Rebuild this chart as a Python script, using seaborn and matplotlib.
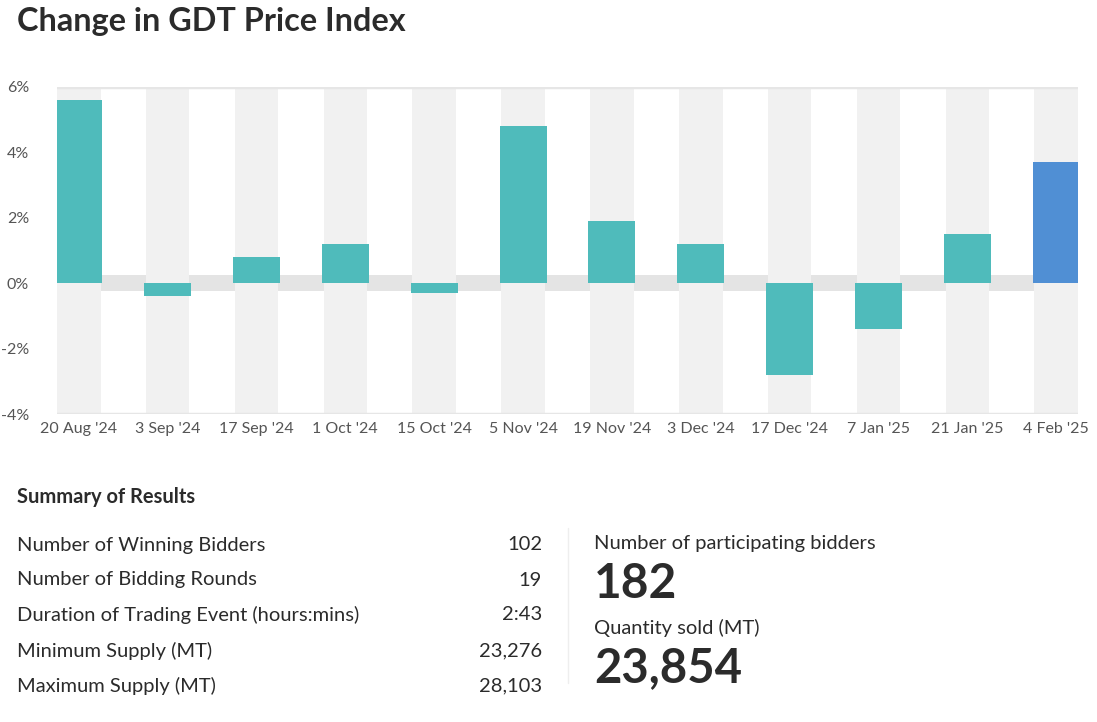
import matplotlib
matplotlib.use("Agg")
import matplotlib.pyplot as plt
import seaborn as sns
import pandas as pd

# data
event_dates = ["20 Aug '24", "3 Sep '24", "17 Sep '24", "1 Oct '24", "15 Oct '24", "5 Nov '24",
               "19 Nov '24", "3 Dec '24", "17 Dec '24", "7 Jan '25", "21 Jan '25", "4 Feb '25"]
index_change = [5.6, -0.4, 0.8, 1.2, -0.3, 4.8, 1.9, 1.2, -2.8, -1.4, 1.5, 3.7]
y_ticks = [-4, -2, 0, 2, 4, 6]

summary_labels = ["Number of Winning Bidders", "Number of Bidding Rounds",
                  "Duration of Trading Event (hours:mins)", "Minimum Supply (MT)",
                  "Maximum Supply (MT)"]
summary_values = ["102", "19", "2:43", "23,276", "28,103"]
highlight_labels = ["Number of participating bidders", "Quantity sold (MT)"]
highlight_values = ["182", "23,854"]

TEAL = "#4fbbbb"
BLUE = "#508fd4"
TEXT = "#2b2b2b"

sns.set_theme(style="white")
plt.rcParams["font.family"] = ["Lato", "DejaVu Sans"]

df = pd.DataFrame({"date": event_dates, "change": index_change})
palette = {d: (BLUE if i == len(event_dates) - 1 else TEAL) for i, d in enumerate(event_dates)}

fig = plt.figure(figsize=(10.97, 7.22), dpi=100)
ax = fig.add_axes([57 / 1097, (722 - 414) / 722, (1078 - 57) / 1097, (414 - 87) / 722])

# grey band around zero, then a light column behind every bar
band = 0.49
ax.axhspan(-0.25, 0.25, color="#e4e4e4", zorder=0, lw=0)
for i in range(len(event_dates)):
    ax.axvspan(i - band / 2, i + band / 2, color="#f1f1f1", zorder=0.5, lw=0)

sns.barplot(data=df, x="date", y="change", hue="date", palette=palette,
            legend=False, width=0.53, saturation=1, linewidth=0, ax=ax, zorder=2)

ax.set_xlim(-band / 2, len(event_dates) - 1 + band / 2)
ax.set_ylim(-4, 6)
ax.set_yticks(y_ticks)
ax.set_yticklabels([f"{t}%" for t in y_ticks])
ax.axhline(6, color="#e6e6e6", lw=2.5, zorder=1)
ax.axhline(-4, color="#e6e6e6", lw=2.5, zorder=1)
for s in ax.spines.values():
    s.set_visible(False)
ax.set_xlabel("")
ax.set_ylabel("")
ax.tick_params(axis="both", length=0, labelsize=11.5, labelcolor="#555555")
ax.tick_params(axis="y", pad=20)
ax.tick_params(axis="x", pad=6)

# title
fig.text(17 / 1097, 1 - 21 / 722, "Change in GDT Price Index", fontsize=23.3, fontweight="bold",
         color=TEXT, va="center", ha="left")

# summary block
def fy(py):
    return 1 - py / 722

fig.text(17 / 1097, fy(497), "Summary of Results", fontsize=14.5, fontweight="bold",
         color=TEXT, va="center")
row_y = [545, 580, 615, 651, 686]
for lab, val, py in zip(summary_labels, summary_values, row_y):
    fig.text(17 / 1097, fy(py), lab, fontsize=14.5, color=TEXT, va="center")
    fig.text(542 / 1097, fy(py), val, fontsize=14.5, color=TEXT, va="center", ha="right")

fig.add_artist(plt.Line2D([568 / 1097, 568 / 1097], [fy(528), fy(683)],
                          color="#eeeeee", lw=1))

fig.text(594 / 1097, fy(544), highlight_labels[0], fontsize=14.5, color=TEXT, va="center")
fig.text(594 / 1097, fy(584), highlight_values[0], fontsize=34.5, fontweight="bold",
         color=TEXT, va="center")
fig.text(594 / 1097, fy(628), highlight_labels[1], fontsize=14.5, color=TEXT, va="center")
fig.text(594 / 1097, fy(668), highlight_values[1], fontsize=34, fontweight="bold",
         color=TEXT, va="center")

fig.savefig("out.png", dpi=100)
